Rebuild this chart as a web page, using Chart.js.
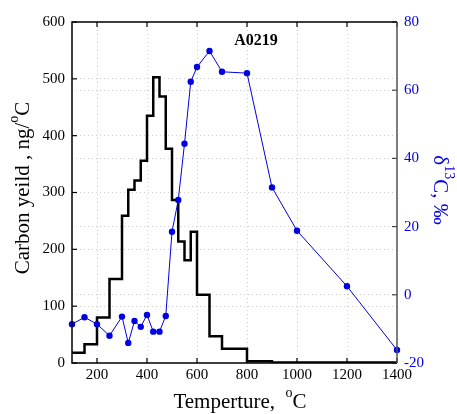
<!DOCTYPE html>
<html>
<head>
<meta charset="utf-8">
<script src="https://cdn.jsdelivr.net/npm/chart.js@4"></script>
<style>
  html, body { margin: 0; padding: 0; background: #fff; }
  #wrap { width: 457px; height: 414px; position: relative; }
</style>
</head>
<body>
<div id="wrap"><canvas id="chart"></canvas></div>
<script>
// ── Data ────────────────────────────────────────────────
// step edges (temperature, °C) and carbon yield per step (ng/°C)
const stepTemps  = [100, 150, 200, 250, 300, 325, 350, 375, 400, 425, 450, 475, 500, 525, 550, 575, 600, 650, 700, 800, 900, 1400];
const yields     = [18, 33, 80, 148, 259, 305, 321, 356, 435, 503, 469, 377, 287, 214, 181, 231, 120, 47, 25, 3, 1, 1];
// δ13C points
const d13Temps   = [100, 150, 200, 250, 300, 325, 350, 375, 400, 425, 450, 475, 500, 525, 550, 575, 600, 650, 700, 800, 900, 1000, 1200, 1400];
const d13Values  = [-8.6, -6.6, -8.6, -12, -6.4, -14.1, -7.7, -9.4, -5.9, -10.8, -10.8, -6.2, 18.5, 27.8, 44.3, 62.5, 66.8, 71.5, 65.4, 65, 31.5, 18.8, 2.5, -16.2];
const xTicks     = [200, 400, 600, 800, 1000, 1200, 1400];

const BLUE  = '#0000e0';
const SERIF = '"Liberation Serif", "DejaVu Serif", serif';
const GRID  = '#cfcfcf';

// draws text pieces with optional superscripts
function drawParts(ctx, parts, size) {
  let total = 0;
  parts.forEach(p => {
    ctx.font = (p.sup ? Math.round(size * 0.65) : size) + 'px ' + SERIF;
    p.w = ctx.measureText(p.t).width;
    total += p.w;
  });
  let x = -total / 2;
  parts.forEach(p => {
    ctx.font = (p.sup ? Math.round(size * 0.65) : size) + 'px ' + SERIF;
    ctx.fillText(p.t, x, p.sup ? -size * 0.4 : 0);
    x += p.w;
  });
}

const framePlugin = {
  id: 'frame',
  afterDraw(chart) {
    const { ctx, chartArea: a, scales } = chart;
    ctx.save();
    // inward tick marks
    ctx.lineWidth = 1.2;
    ctx.strokeStyle = '#000';
    xTicks.forEach(v => {
      const px = scales.x.getPixelForValue(v);
      ctx.beginPath();
      ctx.moveTo(px, a.bottom); ctx.lineTo(px, a.bottom - 5);
      ctx.moveTo(px, a.top); ctx.lineTo(px, a.top + 5);
      ctx.stroke();
    });
    scales.y.ticks.forEach(t => {
      const py = scales.y.getPixelForValue(t.value);
      ctx.beginPath(); ctx.moveTo(a.left, py); ctx.lineTo(a.left + 5, py); ctx.stroke();
    });
    ctx.strokeStyle = '#444';
    scales.y2.ticks.forEach(t => {
      const py = scales.y2.getPixelForValue(t.value);
      ctx.beginPath(); ctx.moveTo(a.right, py); ctx.lineTo(a.right - 5, py); ctx.stroke();
    });
    // box
    ctx.lineWidth = 1.5;
    ctx.strokeStyle = '#000';
    ctx.beginPath();
    ctx.moveTo(a.right, a.top); ctx.lineTo(a.left, a.top); ctx.lineTo(a.left, a.bottom); ctx.lineTo(a.right, a.bottom);
    ctx.stroke();
    ctx.strokeStyle = '#555';
    ctx.beginPath(); ctx.moveTo(a.right, a.top); ctx.lineTo(a.right, a.bottom); ctx.stroke();

    // in-plot title
    ctx.fillStyle = '#000';
    ctx.font = 'bold 16px ' + SERIF;
    ctx.textAlign = 'center';
    ctx.textBaseline = 'middle';
    ctx.fillText('A0219', 256, 41);

    // axis titles
    ctx.textAlign = 'left';
    ctx.textBaseline = 'middle';
    ctx.save();
    ctx.translate(23, 188);
    ctx.rotate(-Math.PI / 2);
    drawParts(ctx, [{ t: 'Carbon yeild , ng/' }, { t: 'o', sup: true }, { t: 'C' }], 21);
    ctx.restore();

    ctx.save();
    ctx.translate(240, 402);
    drawParts(ctx, [{ t: 'Temperture,  ' }, { t: 'o', sup: true }, { t: 'C' }], 21);
    ctx.restore();

    ctx.save();
    ctx.fillStyle = BLUE;
    ctx.translate(440, 190);
    ctx.rotate(Math.PI / 2);
    drawParts(ctx, [{ t: 'δ' }, { t: '13', sup: true }, { t: 'C, ‰' }], 21);
    ctx.restore();

    ctx.restore();
  }
};

new Chart(document.getElementById('chart'), {
  type: 'line',
  data: {
    datasets: [
      {
        label: 'Carbon yield',
        data: stepTemps.map((t, i) => ({ x: t, y: yields[i] })),
        yAxisID: 'y',
        stepped: 'before',
        borderColor: '#000',
        borderWidth: 2.5,
        pointRadius: 0,
        fill: false,
        order: 2
      },
      {
        label: 'δ13C',
        data: d13Temps.map((t, i) => ({ x: t, y: d13Values[i] })),
        yAxisID: 'y2',
        borderColor: BLUE,
        backgroundColor: BLUE,
        borderWidth: 1,
        pointRadius: 3.2,
        pointBorderWidth: 0,
        fill: false,
        clip: false,
        order: 1
      }
    ]
  },
  options: {
    responsive: true,
    maintainAspectRatio: false,
    animation: false,
    layout: { padding: { top: 22, left: 0, right: 0, bottom: 0 } },
    plugins: { legend: { display: false }, tooltip: { enabled: false } },
    scales: {
      x: {
        type: 'linear',
        min: 100, max: 1400,
        afterBuildTicks: s => { s.ticks = xTicks.map(v => ({ value: v })); },
        afterFit: s => { s.height = 51; },
        grid: { color: GRID, drawTicks: false },
        border: { display: false, dash: [1, 3] },
        ticks: { color: '#000', font: { family: SERIF, size: 15 }, padding: 3, maxRotation: 0, callback: v => String(v) }
      },
      y: {
        position: 'left',
        min: 0, max: 600,
        afterFit: s => { s.width = 72; },
        grid: { color: GRID, drawTicks: false },
        border: { display: false, dash: [1, 3] },
        ticks: { stepSize: 100, color: '#000', font: { family: SERIF, size: 15 }, padding: 7 }
      },
      y2: {
        position: 'right',
        min: -20, max: 80,
        afterFit: s => { s.width = 60; },
        grid: { color: GRID, drawTicks: false },
        border: { display: false, dash: [1, 3] },
        ticks: { stepSize: 20, color: BLUE, font: { family: SERIF, size: 15 }, padding: 7 }
      }
    }
  },
  plugins: [framePlugin]
});
</script>
</body>
</html>
